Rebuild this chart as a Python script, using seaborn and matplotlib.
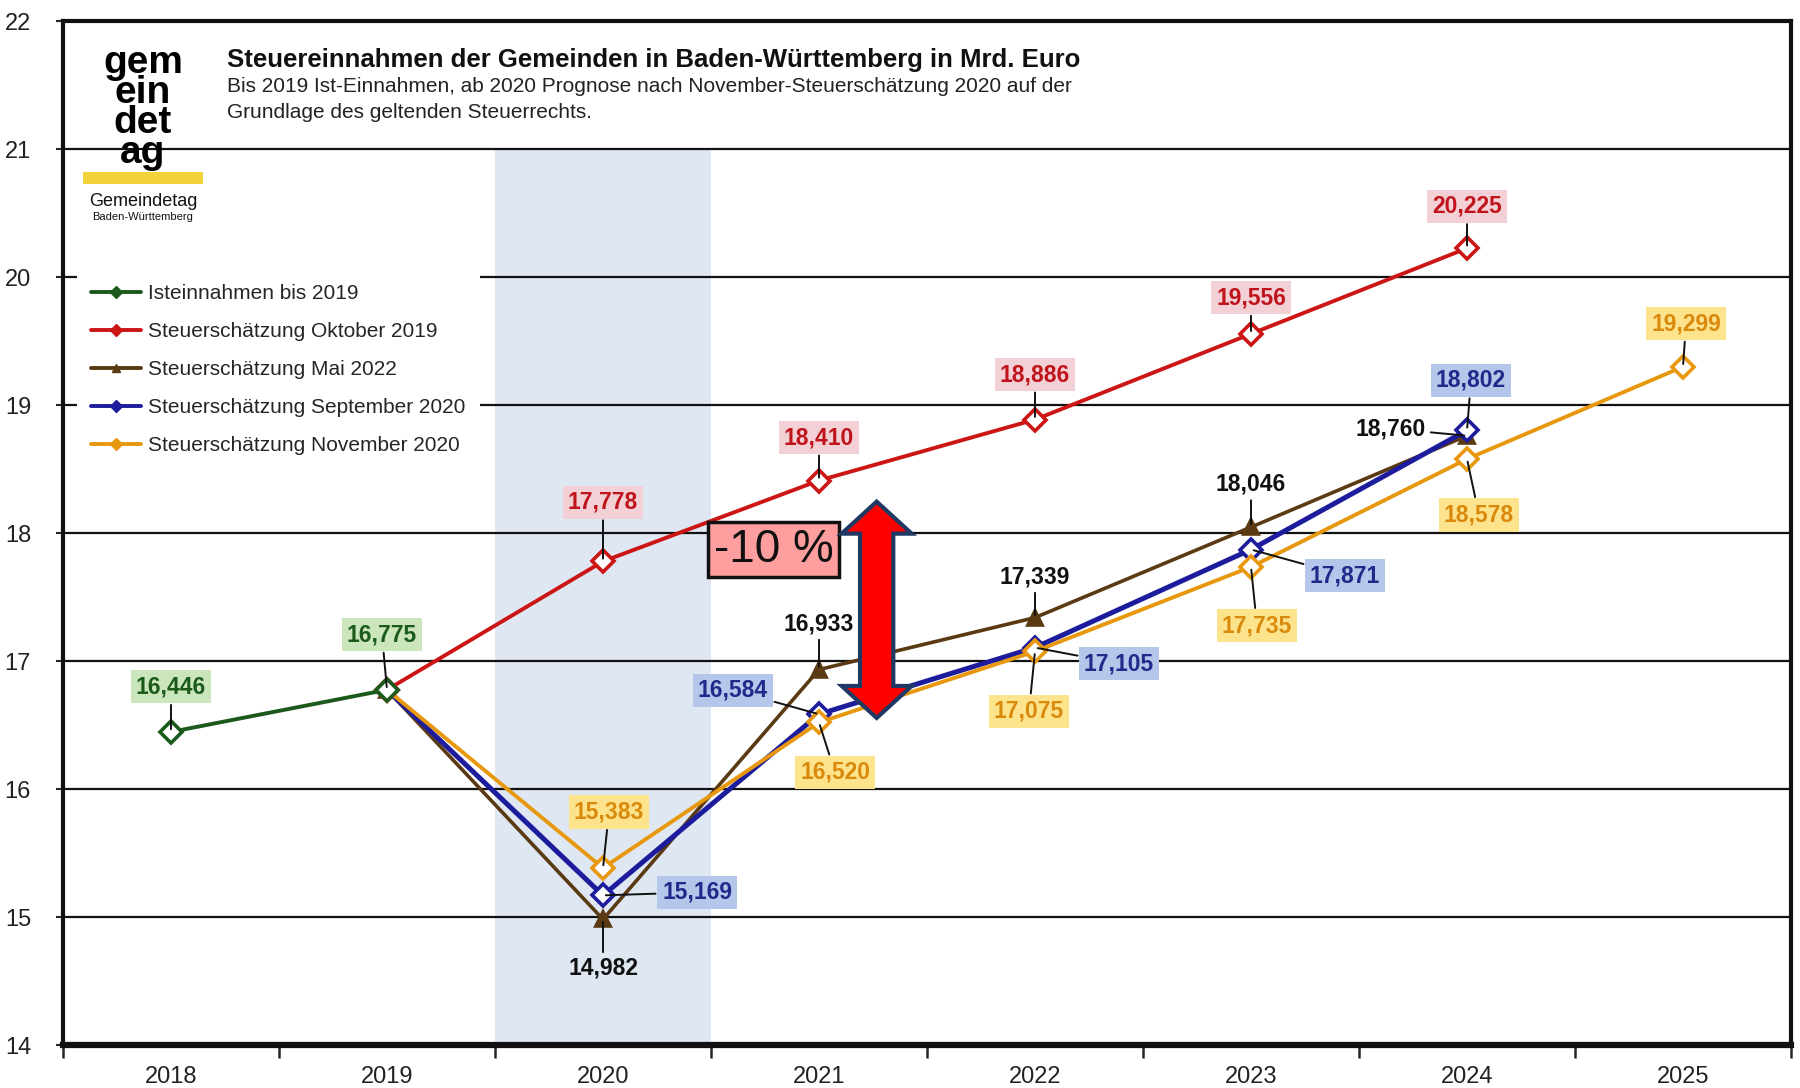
import numpy as np
import pandas as pd
import matplotlib
matplotlib.use("Agg")
import matplotlib.pyplot as plt
import seaborn as sns
from matplotlib.lines import Line2D
from matplotlib.patches import Polygon, Rectangle

# ---------------- data ----------------
years = ["2018", "2019", "2020", "2021", "2022", "2023", "2024", "2025"]

ist_years = ["2018", "2019"]
ist_vals = [16.446, 16.775]

okt_years = ["2019", "2020", "2021", "2022", "2023", "2024"]
okt_vals = [16.775, 17.778, 18.410, 18.886, 19.556, 20.225]

mai_years = ["2019", "2020", "2021", "2022", "2023", "2024"]
mai_vals = [16.775, 14.982, 16.933, 17.339, 18.046, 18.760]

sep_years = ["2019", "2020", "2021", "2022", "2023", "2024"]
sep_vals = [16.775, 15.169, 16.584, 17.105, 17.871, 18.802]

nov_years = ["2019", "2020", "2021", "2022", "2023", "2024", "2025"]
nov_vals = [16.775, 15.383, 16.520, 17.075, 17.735, 18.578, 19.299]

series_names = ["Isteinnahmen bis 2019", "Steuerschätzung Oktober 2019",
                "Steuerschätzung Mai 2022", "Steuerschätzung September 2020",
                "Steuerschätzung November 2020"]

title = "Steuereinnahmen der Gemeinden in Baden-Württemberg in Mrd. Euro"
subtitle1 = "Bis 2019 Ist-Einnahmen, ab 2020 Prognose nach November-Steuerschätzung 2020 auf der"
subtitle2 = "Grundlage des geltenden Steuerrechts."
y_ticks = [14, 15, 16, 17, 18, 19, 20, 21, 22]

# ---------------- style ----------------
sns.set_style("white")
plt.rcParams["font.family"] = ["Liberation Sans", "DejaVu Sans"]

fig = plt.figure(figsize=(18, 10.88), dpi=100)
ax = fig.add_axes([63 / 1800, 1 - 1045 / 1088, 1728 / 1800, 1024 / 1088])

W, H = 1800, 1088

def xi(ys):
    return [years.index(y) for y in ys]

# shaded band for 2020 (category 2)
ax.axvspan(1.5, 2.5, ymin=0, ymax=(21 - 14) / 8, color="#dfe7f3", zorder=0, lw=0)

# gridlines
for yv in y_ticks[1:-1]:
    ax.axhline(yv, color="#111111", lw=1.6, zorder=1)

cfg = [
    dict(ys=mai_years, vals=mai_vals, color="#5a3a12", marker="^", mfc="#5a3a12", ms=9.5, lw=2.6, z=3,
         tc="#111111", bc=None,
         off={"2020": (0, -49), "2021": (0, 46), "2022": (0, 41), "2023": (0, 43), "2024": (-76, 7)}),
    dict(ys=sep_years, vals=sep_vals, color="#1c1c9c", marker="D", mfc="white", ms=11.5, lw=3.6, z=4,
         tc="#1f2a8a", bc="#b4c6ea",
         off={"2020": (94, 3), "2021": (-86, 24), "2022": (84, -16), "2023": (94, -26), "2024": (4, 50)}),
    dict(ys=nov_years, vals=nov_vals, color="#e8980f", marker="D", mfc="white", ms=11.5, lw=2.8, z=5,
         tc="#d98a0c", bc="#fde38c",
         off={"2020": (6, 56), "2021": (16, -50), "2022": (-6, -60), "2023": (6, -59),
              "2024": (12, -56), "2025": (3, 43)}),
    dict(ys=okt_years, vals=okt_vals, color="#cc1515", marker="D", mfc="white", ms=11.5, lw=2.8, z=6,
         tc="#c0141c", bc="#f2d0d5",
         off={"2020": (0, 59), "2021": (0, 43), "2022": (0, 45), "2023": (0, 36), "2024": (0, 42)}),
    dict(ys=ist_years, vals=ist_vals, color="#1b5a1b", marker="D", mfc="white", ms=11.5, lw=2.8, z=7,
         tc="#1b5a1b", bc="#cbe5bc",
         off={"2018": (0, 45), "2019": (-5, 55)}),
]

for c in cfg:
    df = pd.DataFrame({"x": xi(c["ys"]), "y": c["vals"]})
    sns.lineplot(data=df, x="x", y="y", ax=ax, color=c["color"], lw=c["lw"],
                 marker=c["marker"], markersize=c["ms"], markerfacecolor=c["mfc"],
                 markeredgecolor=c["color"], markeredgewidth=2.6, zorder=c["z"],
                 legend=False)
    for yr, v in zip(c["ys"], c["vals"]):
        if yr not in c["off"]:
            continue
        dx, dy = c["off"][yr]
        bbox = None
        if c["bc"] is not None:
            bbox = dict(boxstyle="square,pad=0.22", fc=c["bc"], ec="none")
        ax.annotate(f"{v:.3f}".replace(".", ","), xy=(years.index(yr), v),
                    xytext=(dx, dy), textcoords="offset pixels",
                    ha="center", va="center", fontsize=16.5, fontweight="bold",
                    color=c["tc"], bbox=bbox, zorder=9,
                    arrowprops=dict(arrowstyle="-", color="#111111", lw=1.4,
                                    shrinkA=1, shrinkB=2))

# axes
ax.set_xlim(-0.5, 7.5)
ax.set_ylim(14, 22)
ax.set_xlabel("")
ax.set_ylabel("")
ax.set_yticks(y_ticks)
ax.set_yticklabels([str(v) for v in y_ticks], fontsize=17, color="#222222")
ax.tick_params(axis="y", length=5, width=1.5, direction="out", pad=18, left=True)
ax.set_xticks(np.arange(-0.5, 8, 1))
ax.set_xticklabels([])
ax.set_xticks(np.arange(0, 8), minor=True)
ax.set_xticklabels(years, minor=True, fontsize=17, color="#222222")
ax.tick_params(axis="x", which="major", length=9, width=1.8, direction="out", bottom=True)
ax.tick_params(axis="x", which="minor", length=0, pad=15)
for s in ["left", "right", "top"]:
    ax.spines[s].set_linewidth(3)
    ax.spines[s].set_color("#111111")
ax.spines["bottom"].set_linewidth(4.5)
ax.spines["bottom"].set_color("#111111")

# legend
leg_colors = ["#1b5a1b", "#cc1515", "#5a3a12", "#1c1c9c", "#e8980f"]
leg_markers = ["D", "D", "^", "D", "D"]
handles = [Line2D([0], [0], color=col, lw=2.8, marker=m, markersize=6,
                  markerfacecolor=col, markeredgecolor=col)
           for col, m in zip(leg_colors, leg_markers)]
leg = ax.legend(handles, series_names, loc="upper left", bbox_to_anchor=(0.008, 0.757),
                frameon=True, fontsize=15, handlelength=2.4, handletextpad=0.3,
                labelspacing=0.91, borderpad=0.7, borderaxespad=0)
leg.get_frame().set_facecolor("white")
leg.get_frame().set_edgecolor("none")
leg.get_frame().set_alpha(1)
leg.set_zorder(8)

# -10 % annotation box
ax.text(2.79, 17.87, "-10 %", fontsize=33, ha="center", va="center", color="#111111",
        zorder=10, bbox=dict(boxstyle="square,pad=0.12", fc="#ff9e9e", ec="#111111", lw=2.5))

# double-headed arrow
cx, top, bot = 3.267, 18.245, 16.555
shw, hhw, hl = 0.077, 0.162, 0.25
arrow_pts = [(cx, top), (cx + hhw, top - hl), (cx + shw, top - hl), (cx + shw, bot + hl),
             (cx + hhw, bot + hl), (cx, bot), (cx - hhw, bot + hl), (cx - shw, bot + hl),
             (cx - shw, top - hl), (cx - hhw, top - hl)]
ax.add_patch(Polygon(arrow_pts, closed=True, fc="#ff0000", ec="#1f3864", lw=3, zorder=10,
                     joinstyle="miter"))

# title / subtitle
fig.text(227 / W, 1 - 60 / H, title, fontsize=18.5, fontweight="bold", color="#111111",
         ha="left", va="center")
fig.text(227 / W, 1 - 87 / H, subtitle1, fontsize=15, color="#222222", ha="left", va="center")
fig.text(227 / W, 1 - 113 / H, subtitle2, fontsize=15, color="#222222", ha="left", va="center")

# logo approximation
fig.patches.append(Rectangle((83 / W, 1 - 184 / H), 120 / W, 12 / H, transform=fig.transFigure,
                             fc="#f3d33c", ec="none", zorder=5))
fig.text(143 / W, 1 - 108 / H, "gem\nein\ndet\nag", fontsize=28, fontweight="bold",
         color="black", ha="center", va="center", linespacing=0.78)
fig.text(143 / W, 1 - 201 / H, "Gemeindetag", fontsize=13, color="#111111",
         ha="center", va="center")
fig.text(143 / W, 1 - 217 / H, "Baden-Württemberg", fontsize=8, color="#111111",
         ha="center", va="center")

fig.savefig("out.png", dpi=100, facecolor="white")
